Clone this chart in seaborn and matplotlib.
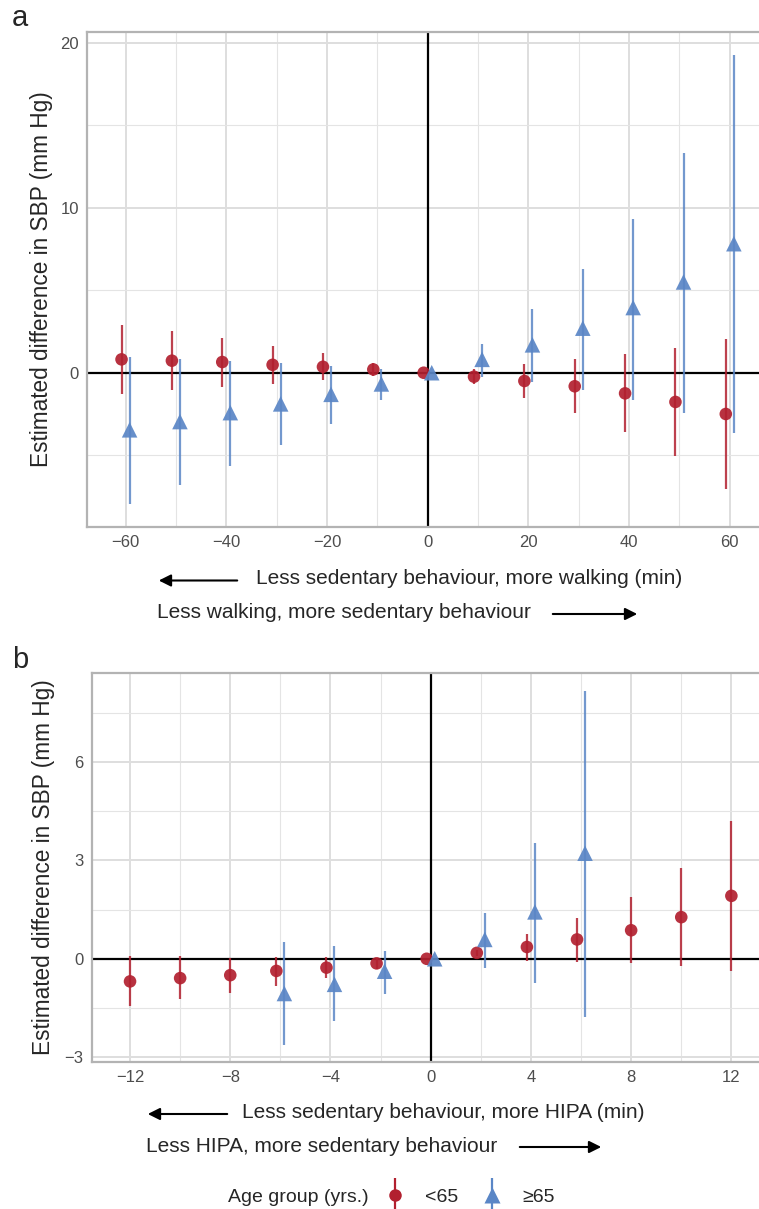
import matplotlib
matplotlib.use("Agg")
import matplotlib.pyplot as plt
import seaborn as sns
import pandas as pd
from matplotlib.lines import Line2D
from matplotlib.legend_handler import HandlerTuple

# --- panel a: walking vs sedentary (min) ---
walk_x = [-60, -50, -40, -30, -20, -10, 0, 10, 20, 30, 40, 50, 60]
walk_young_est = [0.81, 0.73, 0.65, 0.48, 0.36, 0.20, 0.0, -0.24, -0.50, -0.82, -1.25, -1.77, -2.50]
walk_young_lo = [-1.27, -1.06, -0.86, -0.66, -0.46, -0.20, 0.0, -0.70, -1.51, -2.47, -3.62, -5.05, -7.03]
walk_young_hi = [2.88, 2.50, 2.10, 1.65, 1.17, 0.57, 0.0, 0.22, 0.51, 0.81, 1.15, 1.51, 2.02]
walk_old_est = [-3.46, -2.96, -2.42, -1.89, -1.31, -0.68, 0.0, 0.81, 1.69, 2.70, 3.95, 5.50, 7.82]
walk_old_lo = [-7.93, -6.83, -5.68, -4.41, -3.08, -1.63, 0.0, -0.28, -0.58, -1.05, -1.63, -2.42, -3.68]
walk_old_hi = [0.93, 0.81, 0.71, 0.57, 0.40, 0.20, 0.0, 1.77, 3.85, 6.31, 9.33, 13.30, 19.26]

# --- panel b: HIPA vs sedentary (min) ---
hipa_young_x = [-12, -10, -8, -6, -4, -2, 0, 2, 4, 6, 8, 10, 12]
hipa_young_est = [-0.69, -0.59, -0.50, -0.37, -0.27, -0.14, 0.0, 0.18, 0.36, 0.59, 0.87, 1.27, 1.92]
hipa_young_lo = [-1.44, -1.24, -1.05, -0.82, -0.59, -0.30, 0.0, 0.08, -0.07, -0.09, -0.13, -0.23, -0.37]
hipa_young_hi = [0.07, 0.07, 0.03, 0.05, 0.05, 0.02, 0.0, 0.28, 0.77, 1.24, 1.88, 2.77, 4.20]
hipa_old_x = [-6, -4, -2, 0, 2, 4, 6]
hipa_old_est = [-1.06, -0.78, -0.38, 0.0, 0.59, 1.43, 3.22]
hipa_old_lo = [-2.62, -1.90, -1.06, 0.0, -0.29, -0.74, -1.77]
hipa_old_hi = [0.50, 0.38, 0.23, 0.0, 1.40, 3.53, 8.18]

groups = ["<65", "≥65"]

W, H = 759, 1209
RED = "#b2202f"
BLUE = "#5a86c6"
palette = {"<65": RED, "≥65": BLUE}
markers = {"<65": "o", "≥65": "^"}
msize = {"<65": 82, "≥65": 125}

sns.set_theme(style="white")
plt.rcParams["font.family"] = ["Liberation Sans", "DejaVu Sans"]


def fx(px):
    return px / W


def fy(py):
    return 1 - py / H


def make_frame(x, est, lo, hi, group):
    return pd.DataFrame({"x": x, "est": est, "lo": lo, "hi": hi, "group": group})


def dodge(df, width):
    # shift only where both age groups share an x value (like position_dodge)
    counts = df.groupby("x")["group"].transform("count")
    shift = df["group"].map({"<65": -width, "≥65": width})
    df["xd"] = df["x"] + shift.where(counts > 1, 0.0)
    return df


def draw_panel(ax, df, xlim, ylim, xmaj, xmin, ymaj, ymin):
    ax.set_xticks(xmaj)
    ax.set_xticks(xmin, minor=True)
    ax.set_yticks(ymaj)
    ax.set_yticks(ymin, minor=True)
    ax.grid(which="major", color="#dedede", lw=1.4, zorder=0)
    ax.grid(which="minor", color="#e4e4e4", lw=0.8, zorder=0)
    ax.set_axisbelow(True)
    ax.axhline(0, color="black", lw=1.6, zorder=2)
    ax.axvline(0, color="black", lw=1.6, zorder=2)
    for g in groups:
        sub = df[df["group"] == g]
        ax.vlines(sub["xd"], sub["lo"], sub["hi"], color=palette[g], lw=1.6,
                  alpha=0.85, zorder=3)
        sns.scatterplot(data=sub, x="xd", y="est", color=palette[g],
                        marker=markers[g], s=msize[g], edgecolor="none",
                        alpha=0.92, ax=ax, zorder=4, legend=False)
    ax.set_xlim(*xlim)
    ax.set_ylim(*ylim)
    ax.set_xlabel("")
    ax.set_ylabel("")
    for side in ["left", "top", "bottom"]:
        ax.spines[side].set_visible(True)
        ax.spines[side].set_color("#b3b3b3")
        ax.spines[side].set_linewidth(1.6)
    ax.spines["right"].set_visible(False)
    ax.tick_params(which="major", length=3, width=1, color="#b3b3b3",
                   labelcolor="#4d4d4d", labelsize=12, pad=3)
    ax.tick_params(which="minor", length=0)


walk = pd.concat([
    make_frame(walk_x, walk_young_est, walk_young_lo, walk_young_hi, "<65"),
    make_frame(walk_x, walk_old_est, walk_old_lo, walk_old_hi, "≥65"),
], ignore_index=True)
walk = dodge(walk, 0.8)

hipa = pd.concat([
    make_frame(hipa_young_x, hipa_young_est, hipa_young_lo, hipa_young_hi, "<65"),
    make_frame(hipa_old_x, hipa_old_est, hipa_old_lo, hipa_old_hi, "≥65"),
], ignore_index=True)
hipa = dodge(hipa, 0.16)

fig = plt.figure(figsize=(W / 100, H / 100), dpi=100)

# panel a
ax_a = fig.add_axes([fx(87.3), fy(527), 680.8 / W, (527 - 31.7) / H])
draw_panel(ax_a, walk, (-67.6, 67.6), (-9.35, 20.67),
           [-60, -40, -20, 0, 20, 40, 60], [-50, -30, -10, 10, 30, 50],
           [0, 10, 20], [-5, 5, 15])

# panel b
ax_b = fig.add_axes([fx(91.7), fy(1061.7), 678 / W, (1061.7 - 673.3) / H])
draw_panel(ax_b, hipa, (-13.53, 13.53), (-3.14, 8.71),
           [-12, -8, -4, 0, 4, 8, 12], [-10, -6, -2, 2, 6, 10],
           [-3, 0, 3, 6], [-1.5, 1.5, 4.5, 7.5])

ylab = "Estimated difference in SBP (mm Hg)"
fig.text(fx(42), fy(279), ylab, rotation=90, ha="center", va="center", fontsize=16.3)
fig.text(fx(44), fy(867), ylab, rotation=90, ha="center", va="center", fontsize=16.3)

fig.text(fx(12), fy(18), "a", ha="left", va="center", fontsize=21)
fig.text(fx(12), fy(660), "b", ha="left", va="center", fontsize=21)


def arrow(x0, x1, y):
    fig.add_artist(matplotlib.patches.FancyArrowPatch(
        (fx(x0), fy(y)), (fx(x1), fy(y)), transform=fig.transFigure,
        arrowstyle="-|>", mutation_scale=18, lw=1.5, color="black"))


# panel a direction notes
fig.text(fx(256), fy(578.5), "Less sedentary behaviour, more walking (min)",
         ha="left", va="center", fontsize=15)
arrow(240, 156, 580.5)
fig.text(fx(157), fy(613), "Less walking, more sedentary behaviour",
         ha="left", va="center", fontsize=15)
arrow(550, 640, 614)

# panel b direction notes
fig.text(fx(241.7), fy(1113), "Less sedentary behaviour, more HIPA (min)",
         ha="left", va="center", fontsize=15)
arrow(230, 145, 1114)
fig.text(fx(145.7), fy(1147), "Less HIPA, more sedentary behaviour",
         ha="left", va="center", fontsize=15)
arrow(517, 604, 1147)

# legend
fig.text(fx(227.7), fy(1197), "Age group (yrs.)", ha="left", va="center", fontsize=14)
handles = []
for g in groups:
    bar = Line2D([], [], marker="|", markersize=24, mew=1.6, color=palette[g], ls="none")
    pt = Line2D([], [], marker=markers[g], markersize=9 if g == "<65" else 11,
                color=palette[g], ls="none", mec="none")
    handles.append((bar, pt))
fig.legend(handles, groups, handler_map={tuple: HandlerTuple(ndivide=1, pad=0)},
           loc="center left", bbox_to_anchor=(fx(385), fy(1197)), ncol=2,
           frameon=False, fontsize=14, handlelength=1.0, handletextpad=1.05,
           columnspacing=1.25, borderpad=0, borderaxespad=0)

fig.savefig("out.png", dpi=100)
